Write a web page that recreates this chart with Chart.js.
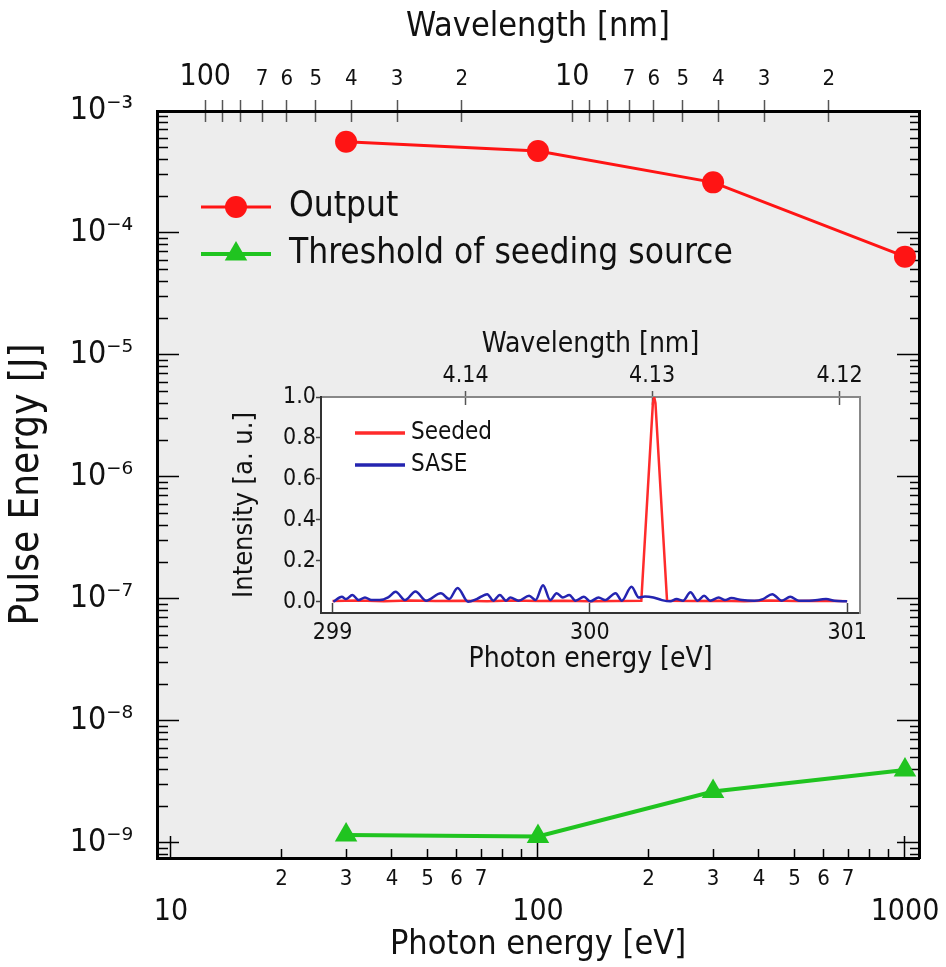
<!DOCTYPE html>
<html>
<head>
<meta charset="utf-8">
<script src="https://cdn.jsdelivr.net/npm/chart.js@4.4.1/dist/chart.umd.min.js"></script>
<style>
  body { margin: 0; background: #fff; }
  #wrap { position: relative; width: 946px; height: 967px; }
  #mainChart { position: absolute; left: 0; top: 0; }
  #insetChart { position: absolute; left: 225px; top: 325px; }
</style>
</head>
<body>
<div id="wrap">
  <canvas id="mainChart" width="946" height="967"></canvas>
  <canvas id="insetChart" width="660" height="360"></canvas>
</div>
<script>
// main plot: pulse energy vs photon energy
var photonEnergy = [30, 100, 300, 1000];
var outputEnergy = [5.6e-4, 4.7e-4, 2.6e-4, 6.4e-5];
var thresholdEnergy = [1.16e-9, 1.13e-9, 2.64e-9, 3.96e-9];

var energyTicks = [10, 20, 30, 40, 50, 60, 70, 80, 90,
  100, 200, 300, 400, 500, 600, 700, 800, 900, 1000];
var energyLabels = ["10", "2", "3", "4", "5", "6", "7", "", "",
  "100", "2", "3", "4", "5", "6", "7", "", "", "1000"];

var wavelengthTicks = [100, 90, 80, 70, 60, 50, 40, 30, 20, 10, 9, 8, 7, 6, 5, 4, 3, 2];
var wavelengthLabels = ["100", "", "", "7", "6", "5", "4", "3", "2",
  "10", "", "", "7", "6", "5", "4", "3", "2"];

var pulseMajorTicks = [1e-9, 1e-8, 1e-7, 1e-6, 1e-5, 1e-4, 1e-3];
var pulseLabels = ["10⁻⁹", "10⁻⁸", "10⁻⁷", "10⁻⁶", "10⁻⁵", "10⁻⁴", "10⁻³"];

// inset: spectrum around 300 eV
var seededEnergy = [299.0, 299.1, 299.2, 299.3, 299.4, 299.5, 299.6, 299.7, 299.8, 299.9,
  300.0, 300.1, 300.2, 300.245, 300.25, 300.255, 300.3, 300.4, 300.5, 300.6, 300.7,
  300.8, 300.9, 301.0];
var seededIntensity = [0.004, 0.006, 0.003, 0.006, 0.004, 0.005, 0.003, 0.006, 0.004, 0.005,
  0.003, 0.004, 0.005, 0.97, 1.0, 0.97, 0.005, 0.004, 0.005, 0.003, 0.006,
  0.004, 0.005, 0.003];

var saseEnergy = [299.003, 299.036, 299.052, 299.077, 299.101, 299.126, 299.151, 299.183,
  299.216, 299.245, 299.282, 299.322, 299.363, 299.421, 299.453, 299.486, 299.527, 299.560,
  299.601, 299.625, 299.650, 299.674, 299.691, 299.723, 299.764, 299.789, 299.818, 299.846,
  299.871, 299.895, 299.920, 299.944, 299.977, 300.002, 300.034, 300.059, 300.100, 300.124,
  300.162, 300.190, 300.214, 300.247, 300.280, 300.313, 300.337, 300.362, 300.391, 300.419,
  300.444, 300.468, 300.501, 300.525, 300.550, 300.591, 300.640, 300.673, 300.709, 300.746,
  300.779, 300.812, 300.853, 300.918, 300.951, 301.000];
var saseIntensity = [0.0, 0.024, 0.013, 0.033, 0.008, 0.021, 0.008, 0.008,
  0.021, 0.049, 0.008, 0.050, 0.005, 0.041, 0.013, 0.067, 0.0, 0.013,
  0.037, 0.005, 0.033, 0.005, 0.021, 0.005, 0.029, 0.008, 0.081, 0.008,
  0.042, 0.021, 0.033, 0.005, 0.024, 0.002, 0.021, 0.008, 0.042, 0.005,
  0.073, 0.021, 0.026, 0.021, 0.008, 0.002, 0.013, 0.005, 0.046, 0.005,
  0.029, 0.005, 0.021, 0.008, 0.018, 0.008, 0.005, 0.013, 0.037, 0.005,
  0.024, 0.005, 0.005, 0.013, 0.005, 0.002];

var intensityTicks = [0, 0.2, 0.4, 0.6, 0.8, 1.0];
var insetEnergyTicks = [299, 300, 301];
var insetWavelengthTicks = [4.14, 4.13, 4.12];

var HC = 1240; // eV nm
var FONT = "'DejaVu Sans Condensed', 'DejaVu Sans', sans-serif";
Chart.defaults.font.family = FONT;
Chart.defaults.color = "#111";

function isDecade(v) {
  var l = Math.log10(v);
  return Math.abs(l - Math.round(l)) < 1e-6;
}

// 1..9 x 10^n ticks between lo and hi
function logTicks(lo, hi) {
  var out = [];
  for (var e = Math.floor(Math.log10(lo)); e <= Math.ceil(Math.log10(hi)); e++) {
    for (var m = 1; m <= 9; m++) {
      var v = m === 1 ? Math.pow(10, e) : m * Math.pow(10, e);
      if (v >= lo && v <= hi) out.push(v);
    }
  }
  return out;
}

function noPadding(s) {
  s.paddingLeft = s.paddingRight = s.paddingTop = s.paddingBottom = 0;
}

function minorDash(pattern) {
  return function (c) {
    return c.tick && isDecade(c.tick.value) ? [] : pattern;
  };
}

function toPoints(xs, ys) {
  return xs.map(function (x, i) { return { x: x, y: ys[i] }; });
}

var plotBackground = {
  id: "plotBackground",
  beforeDraw: function (chart, args, opts) {
    var a = chart.chartArea;
    chart.ctx.save();
    chart.ctx.fillStyle = opts.color;
    chart.ctx.fillRect(a.left, a.top, a.right - a.left, a.bottom - a.top);
    chart.ctx.restore();
  }
};

// legend drawn as line + marker, like the plot itself
var lineLegend = {
  id: "lineLegend",
  afterDraw: function (chart, args, opts) {
    var ctx = chart.ctx, a = chart.chartArea;
    ctx.save();
    ctx.font = opts.size + "px " + FONT;
    ctx.textBaseline = "middle";
    chart.data.datasets.forEach(function (ds, i) {
      var x0 = a.left + opts.left;
      var y = a.top + opts.top + i * opts.gap;
      ctx.strokeStyle = ds.borderColor;
      ctx.lineWidth = opts.lineWidth || ds.borderWidth;
      ctx.beginPath();
      ctx.moveTo(x0, y);
      ctx.lineTo(x0 + opts.lineLength, y);
      ctx.stroke();
      if (ds.pointRadius) {
        ctx.fillStyle = ds.pointBackgroundColor;
        Chart.helpers.drawPoint(ctx, { pointStyle: ds.pointStyle, radius: ds.pointRadius, borderWidth: 0, rotation: 0 },
          x0 + opts.lineLength / 2, y);
      }
      ctx.fillStyle = "#111";
      ctx.fillText(ds.label, x0 + opts.lineLength + opts.textGap, y);
    });
    ctx.restore();
  }
};

var xMin = 9.16, xMax = 1092;
var yMin = 7.53e-10, yMax = 1e-3;
var pulseTicks = logTicks(yMin, yMax);

new Chart(document.getElementById("mainChart"), {
  type: "line",
  data: {
    datasets: [
      {
        label: "Output",
        data: toPoints(photonEnergy, outputEnergy),
        borderColor: "#ff1414",
        borderWidth: 3,
        pointStyle: "circle",
        pointRadius: 11,
        pointBackgroundColor: "#ff1414",
        pointBorderWidth: 0,
        xAxisID: "x",
        yAxisID: "y",
      },
      {
        label: "Threshold of seeding source",
        data: toPoints(photonEnergy, thresholdEnergy),
        borderColor: "#20c420",
        borderWidth: 4,
        pointStyle: "triangle",
        pointRadius: 13,
        pointBackgroundColor: "#20c420",
        pointBorderWidth: 0,
        xAxisID: "x",
        yAxisID: "y",
      },
    ],
  },
  options: {
    responsive: false,
    animation: false,
    devicePixelRatio: 1,
    layout: { padding: 0 },
    plugins: {
      legend: { display: false },
      tooltip: { enabled: false },
      plotBackground: { color: "#ededed" },
      lineLegend: { left: 44, top: 96, gap: 47, lineLength: 70, textGap: 18, size: 35 },
    },
    scales: {
      x: {
        type: "logarithmic",
        position: "bottom",
        min: xMin,
        max: xMax,
        afterBuildTicks: function (s) {
          s.ticks = energyTicks.map(function (v) { return { value: v }; });
        },
        afterFit: function (s) { noPadding(s); s.height = 109; },
        border: { color: "#000", width: 3 },
        grid: {
          drawOnChartArea: false,
          tickLength: -22,
          tickColor: "#000",
          tickWidth: 1.5,
          tickBorderDash: minorDash([11, 40]),
        },
        ticks: {
          autoSkip: false,
          maxRotation: 0,
          minRotation: 0,
          padding: 31,
          color: "#111",
          font: function (c) {
            return c.tick && isDecade(c.tick.value) ? { size: 30, lineHeight: 1 } : { size: 22, lineHeight: 1.15 };
          },
          callback: function (v, i) {
            var t = energyLabels[i];
            return isDecade(v) ? ["", t] : t;
          },
        },
        title: {
          display: true,
          text: "Photon energy [eV]",
          color: "#111",
          font: { size: 34, lineHeight: 1 },
          padding: { top: 0, bottom: 5 },
        },
      },
      x2: {
        type: "logarithmic",
        position: "top",
        weight: 1,
        min: xMin,
        max: xMax,
        afterBuildTicks: function (s) {
          s.ticks = wavelengthTicks.map(function (w) { return { value: HC / w }; });
        },
        afterFit: function (s) { noPadding(s); s.height = 111; },
        border: { color: "#000", width: 3 },
        grid: { drawOnChartArea: false, tickLength: 11, tickColor: "#555", tickWidth: 1.5 },
        ticks: {
          autoSkip: false,
          maxRotation: 0,
          minRotation: 0,
          padding: 8,
          color: "#111",
          font: function (c) {
            return wavelengthLabels[c.index] && wavelengthLabels[c.index].length > 1
              ? { size: 30, lineHeight: 1 } : { size: 22, lineHeight: 1.15 };
          },
          callback: function (v, i) { return wavelengthLabels[i]; },
        },
        title: {
          display: true,
          text: "Wavelength [nm]",
          color: "#111",
          font: { size: 34, lineHeight: 1 },
          padding: { top: 10, bottom: 0 },
        },
      },
      x3: {
        type: "logarithmic",
        position: "top",
        weight: 0,
        min: xMin,
        max: xMax,
        afterBuildTicks: function (s) {
          s.ticks = wavelengthTicks.map(function (w) { return { value: HC / w }; });
        },
        afterFit: function (s) { noPadding(s); s.height = 0; },
        border: { display: false },
        grid: { drawOnChartArea: false, tickLength: -11, tickColor: "#555", tickWidth: 1.5 },
        ticks: { display: false },
      },
      y: {
        type: "logarithmic",
        position: "left",
        min: yMin,
        max: yMax,
        afterBuildTicks: function (s) {
          s.ticks = pulseTicks.map(function (v) { return { value: v }; });
        },
        afterFit: function (s) { noPadding(s); s.width = 157; },
        border: { color: "#000", width: 3 },
        grid: {
          drawOnChartArea: false,
          tickLength: -22,
          tickColor: "#000",
          tickWidth: 1.5,
          tickBorderDash: minorDash([0, 11, 11, 40]),
        },
        ticks: {
          autoSkip: false,
          padding: 46,
          color: "#111",
          font: { size: 32 },
          callback: function (v) {
            var i = pulseMajorTicks.indexOf(v);
            return i < 0 ? "" : pulseLabels[i];
          },
        },
        title: {
          display: true,
          text: "Pulse Energy [J]",
          color: "#111",
          font: { size: 40, lineHeight: 1 },
          padding: { top: 8, bottom: 0 },
        },
      },
      y2: {
        type: "logarithmic",
        position: "right",
        min: yMin,
        max: yMax,
        afterBuildTicks: function (s) {
          s.ticks = pulseTicks.map(function (v) { return { value: v }; });
        },
        afterFit: function (s) { noPadding(s); s.width = 27; },
        border: { color: "#000", width: 3 },
        grid: {
          drawOnChartArea: false,
          tickLength: -22,
          tickColor: "#000",
          tickWidth: 1.5,
          tickBorderDash: minorDash([11, 40]),
        },
        ticks: { display: false },
      },
    },
  },
  plugins: [plotBackground, lineLegend],
});

new Chart(document.getElementById("insetChart"), {
  type: "line",
  data: {
    datasets: [
      {
        label: "Seeded",
        data: toPoints(seededEnergy, seededIntensity),
        borderColor: "#ff2b2b",
        borderWidth: 2.5,
        pointRadius: 0,
        order: 1,
      },
      {
        label: "SASE",
        data: toPoints(saseEnergy, saseIntensity),
        borderColor: "#2424b0",
        borderWidth: 2.5,
        pointRadius: 0,
        cubicInterpolationMode: "monotone",
        order: 0,
      },
    ],
  },
  options: {
    responsive: false,
    animation: false,
    devicePixelRatio: 1,
    layout: { padding: 0 },
    plugins: {
      legend: { display: false },
      tooltip: { enabled: false },
      plotBackground: { color: "#ffffff" },
      lineLegend: { left: 34, top: 36, gap: 32, lineLength: 50, lineWidth: 3.5, textGap: 6, size: 24 },
    },
    scales: {
      x: {
        type: "linear",
        position: "bottom",
        min: 298.955,
        max: 301.05,
        afterBuildTicks: function (s) {
          s.ticks = insetEnergyTicks.map(function (v) { return { value: v }; });
        },
        afterFit: function (s) { noPadding(s); s.height = 72; },
        border: { color: "#333", width: 2 },
        grid: { drawOnChartArea: false, tickLength: -10, tickColor: "#444", tickWidth: 1.5 },
        ticks: { autoSkip: false, maxRotation: 0, padding: 16, color: "#111", font: { size: 23 } },
        title: {
          display: true,
          text: "Photon energy [eV]",
          color: "#111",
          font: { size: 28, lineHeight: 1 },
          padding: { top: 0, bottom: 11 },
        },
      },
      x2: {
        type: "linear",
        position: "top",
        weight: 1,
        min: 298.955,
        max: 301.05,
        afterBuildTicks: function (s) {
          s.ticks = insetWavelengthTicks.map(function (w) { return { value: HC / w }; });
        },
        afterFit: function (s) { noPadding(s); s.height = 72; },
        border: { color: "#888", width: 2 },
        grid: { drawOnChartArea: false, tickLength: 6, tickColor: "#555", tickWidth: 1.5 },
        ticks: {
          autoSkip: false,
          maxRotation: 0,
          padding: 1,
          color: "#111",
          font: { size: 23 },
          callback: function (v, i) { return insetWavelengthTicks[i].toFixed(2); },
        },
        title: {
          display: true,
          text: "Wavelength [nm]",
          color: "#111",
          font: { size: 28, lineHeight: 1 },
          padding: { top: 6, bottom: 0 },
        },
      },
      x3: {
        type: "linear",
        position: "top",
        weight: 0,
        min: 298.955,
        max: 301.05,
        afterBuildTicks: function (s) {
          s.ticks = insetWavelengthTicks.map(function (w) { return { value: HC / w }; });
        },
        afterFit: function (s) { noPadding(s); s.height = 0; },
        border: { display: false },
        grid: { drawOnChartArea: false, tickLength: -8, tickColor: "#555", tickWidth: 1.5 },
        ticks: { display: false },
      },
      y: {
        type: "linear",
        position: "left",
        min: -0.055,
        max: 1.0,
        afterBuildTicks: function (s) {
          s.ticks = intensityTicks.map(function (v) { return { value: v }; });
        },
        afterFit: function (s) { noPadding(s); s.width = 96; },
        border: { color: "#333", width: 2 },
        grid: { drawOnChartArea: false, tickLength: 5, tickColor: "#444", tickWidth: 1.5 },
        ticks: {
          autoSkip: false,
          padding: 0,
          color: "#111",
          font: { size: 23 },
          callback: function (v) { return v.toFixed(1); },
        },
        title: {
          display: true,
          text: "Intensity [a. u.]",
          color: "#111",
          font: { size: 27, lineHeight: 1 },
          padding: { top: 6, bottom: 0 },
        },
      },
      y2: {
        type: "linear",
        position: "right",
        min: -0.055,
        max: 1.0,
        afterFit: function (s) { noPadding(s); s.width = 25; },
        border: { color: "#888", width: 2 },
        grid: { drawOnChartArea: false, drawTicks: false },
        ticks: { display: false },
      },
    },
  },
  plugins: [plotBackground, lineLegend],
});
</script>
</body>
</html>
